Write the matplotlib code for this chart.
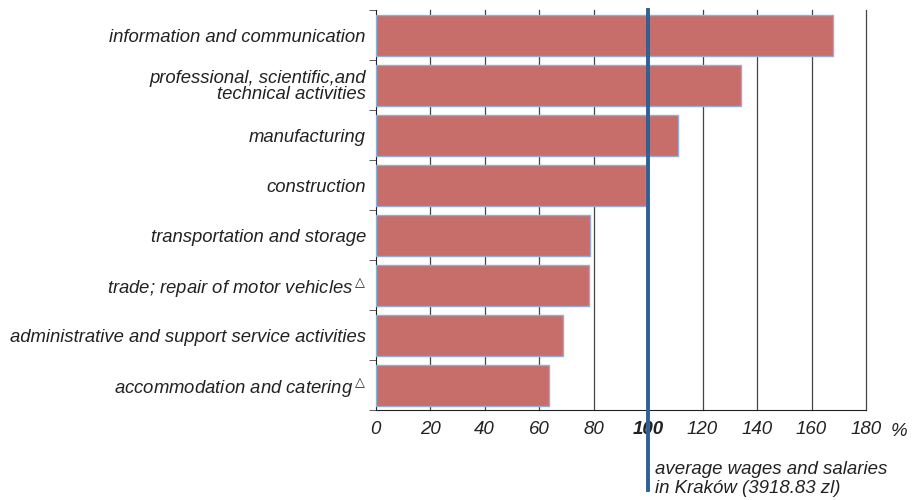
import matplotlib
matplotlib.use('Agg')
import matplotlib.pyplot as plt
import matplotlib.transforms as mtransforms
import numpy as np

plt.rcParams['font.family'] = ['Liberation Sans', 'DejaVu Sans']

# Data (average = 100)
categories = ['information and communication',
              'professional, scientific,and\ntechnical activities',
              'manufacturing',
              'construction',
              'transportation and storage',
              'trade; repair of motor vehicles$^{\\triangle}$',
              'administrative and support service activities',
              'accommodation and catering$^{\\triangle}$']
values = [168.0, 134.0, 111.1, 99.2, 78.7, 78.4, 68.7, 63.8]
xticks = [0, 20, 40, 60, 80, 100, 120, 140, 160, 180]
average_level = 100
average_note = 'average wages and salaries\nin Kraków (3918.83 zl)'

fig = plt.figure(figsize=(9.15, 5.0), dpi=100)
ax = fig.add_axes([0.4104, 0.18, 0.5361, 0.80])

ypos = np.arange(len(categories))
ax.barh(ypos, values, height=0.82, color='#c76d6a',
        edgecolor='#8fb0d6', linewidth=1.0, zorder=3)

ax.set_xlim(0, 180)
ax.set_ylim(len(categories) - 0.5, -0.5)

# vertical grid lines
for x in xticks[1:]:
    ax.axvline(x, color='#444444', linewidth=0.9, zorder=1, clip_on=False)

# average line, extending below the axis
ax.axvline(average_level, ymin=-0.2, ymax=1.0, color='#2f6095',
           linewidth=2.8, zorder=4, clip_on=False)

ax.spines['top'].set_visible(False)
ax.spines['right'].set_visible(False)
ax.spines['left'].set_color('#222222')
ax.spines['bottom'].set_color('#222222')

ax.set_yticks(ypos)
ax.set_yticklabels(categories, fontsize=13.3, style='italic', color='#222222',
                   linespacing=0.9)
ax.tick_params(axis='y', which='major', length=0, pad=7)
ax.set_yticks(np.arange(len(categories) + 1) - 0.5, minor=True)
ax.tick_params(axis='y', which='minor', length=5, direction='out',
               color='#444444')

ax.set_xticks(xticks)
ax.set_xticklabels([str(x) for x in xticks], fontsize=13.5, style='italic',
                   color='#222222')
ax.tick_params(axis='x', which='major', length=0, pad=8)
ax.set_xticks([0], minor=True)
ax.tick_params(axis='x', which='minor', length=4, direction='out',
               color='#222222')
for lbl in ax.get_xticklabels():
    if lbl.get_text() == str(average_level):
        lbl.set_fontweight('bold')

trans = mtransforms.blended_transform_factory(ax.transData, ax.transAxes)
ax.text(189, -0.032, '%', fontsize=13.5, style='italic', color='#222222',
        va='top', ha='left', transform=trans, clip_on=False)

ax.text(102.5, -0.128, average_note, fontsize=13.4, style='italic',
        color='#222222', va='top', ha='left', linespacing=1.12,
        transform=trans, clip_on=False)

fig.savefig('out.png', dpi=100)
